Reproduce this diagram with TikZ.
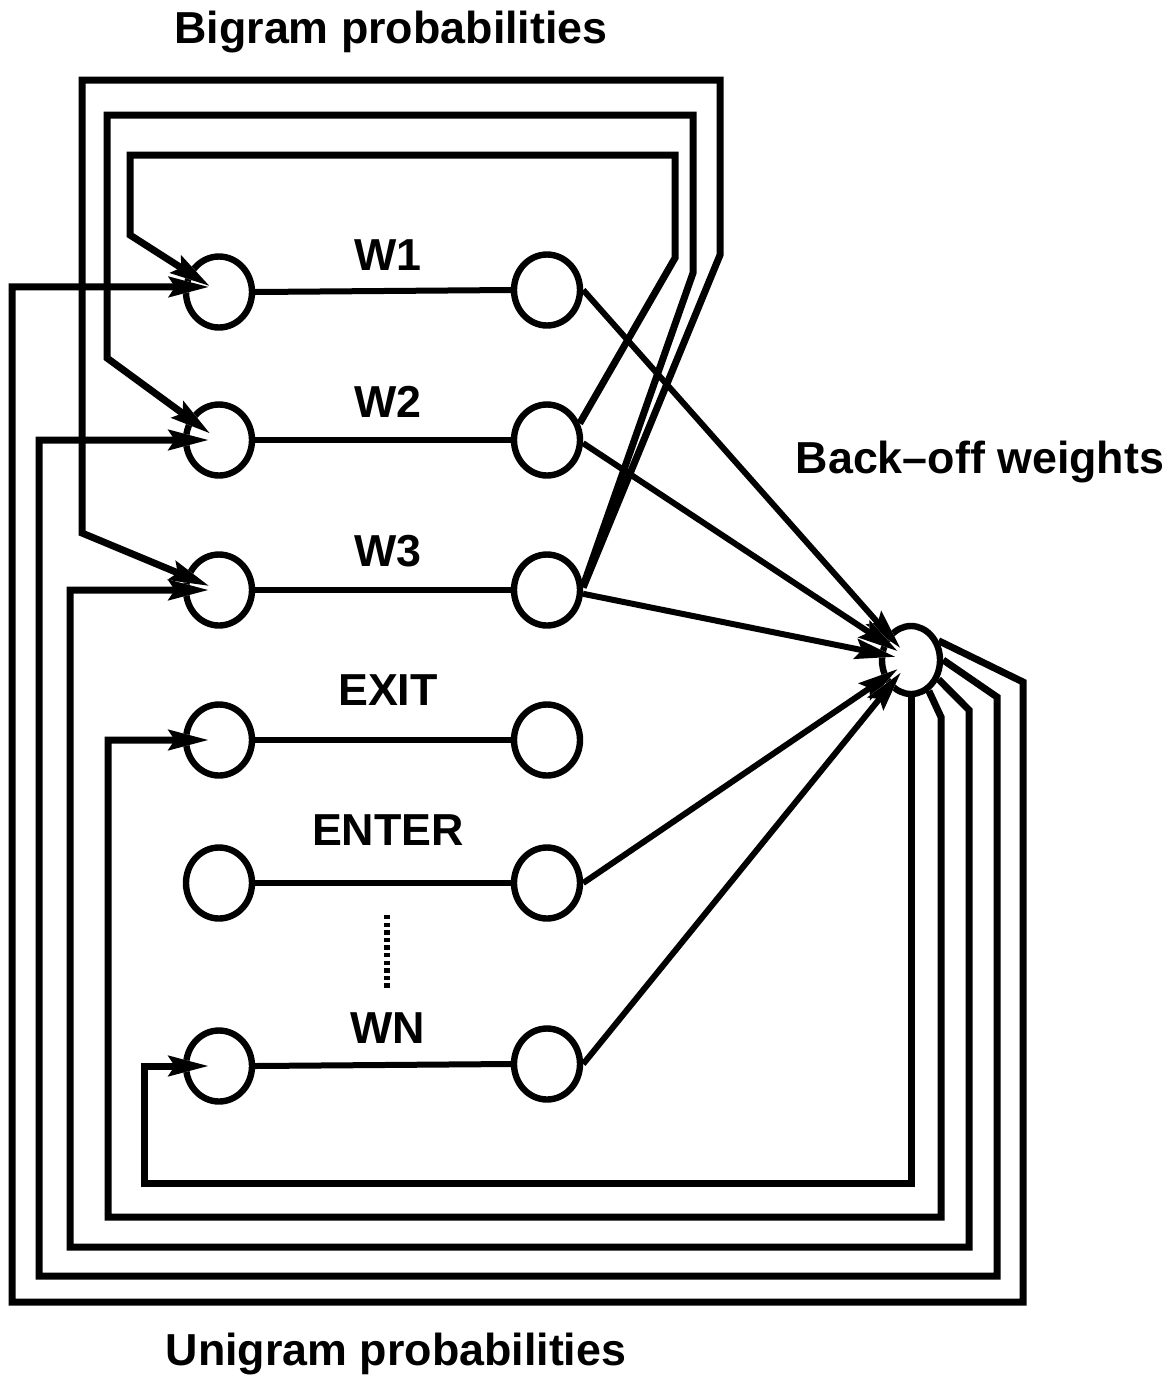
\documentclass[tikz,border=0pt]{standalone}
\usepackage{fontspec}
\setmainfont{Liberation Sans}
\usetikzlibrary{shapes.geometric,arrows.meta}

\tikzset{
  statenode/.style={draw, ellipse, line width=3.2pt, minimum width=33pt,
    minimum height=35.5pt, inner sep=0pt},
  hubnode/.style={draw, ellipse, line width=3.2pt, minimum width=29pt,
    minimum height=34pt, inner sep=0pt},
  labeltext/.style={font=\fontsize{22.4}{26}\selectfont\bfseries, anchor=base,
    inner sep=0pt},
  linkline/.style={line width=3pt},
  % long narrow arrowhead with a thin white rim that cuts into the circle outline
  rimtip/.style={
    preaction={draw=white, line width=0.1pt,
      -{Stealth[length=20pt,width=10pt,inset=3pt,line width=2.4pt,color=white]}},
    -{Stealth[length=20pt,width=10pt,inset=3pt]}},
  routeline/.style={line width=3.5pt, line join=miter, shorten >=-13pt, rimtip},
  weightline/.style={line width=3pt, shorten >=8pt, rimtip},
}

\begin{document}
\begin{tikzpicture}[x=0.5pt, y=-0.5pt]
  \useasboundingbox (0,0) rectangle (1168,1382);

  % word models: entry state (left) and exit state (right)
  \node[statenode] (l1) at (219,292) {};
  \node[statenode] (r1) at (547,290) {};
  \node[statenode] (l2) at (219,440) {};
  \node[statenode] (r2) at (547,440) {};
  \node[statenode] (l3) at (219,590) {};
  \node[statenode] (r3) at (547,590) {};
  \node[statenode] (l4) at (219,740) {};
  \node[statenode] (r4) at (547,740) {};
  \node[statenode] (l5) at (219,883) {};
  \node[statenode] (r5) at (547,883) {};
  \node[statenode] (l6) at (219,1066) {};
  \node[statenode] (r6) at (547,1064) {};

  % back-off state
  \node[hubnode] (bo) at (911,660) {};

  % word labels
  \node[labeltext] (t1) at (388,270) {W1};
  \node[labeltext] (t2) at (388,417) {W2};
  \node[labeltext] (t3) at (388,566) {W3};
  \node[labeltext] (t4) at (388,705) {EXIT};
  \node[labeltext] (t5) at (388,845) {ENTER};
  \node[labeltext] (t6) at (388,1043) {WN};

  % captions
  \node[labeltext] (cb) at (391,43) {Bigram probabilities};
  \node[labeltext] (cu) at (396,1365) {Unigram probabilities};
  \node[labeltext] (cw) at (980,473) {Back–off weights};

  % word bodies
  \foreach \i in {1,...,6}
    \draw[linkline] (l\i.east) -- (r\i.west);

  % omitted words
  \coordinate (d1) at (387,915);
  \coordinate (d2) at (387,990);
  \draw[line width=3.2pt, dash pattern=on 2.2pt off 1.6pt] (d1) -- (d2);

  % bigram transitions
  \draw[routeline] (r2.27) -- (675,258) -- (675,155) -- (130,155) -- (130,235) -- (l1);
  \draw[routeline] (r3.6) -- (693,273) -- (693,115) -- (107,115) -- (107,358) -- (l2);
  \draw[routeline] (r3.4) -- (720,255) -- (720,80) -- (82,80) -- (82,533) -- (l3);

  % back-off transitions
  \draw[weightline] (r1.east) -- (bo.center);
  \draw[weightline] (r2.-5) -- (bo.center);
  \draw[weightline] (r3.-6) -- (bo.center);
  \draw[weightline] (r5.east) -- (bo.center);
  \draw[weightline] (r6.east) -- (bo.center);

  % unigram transitions
  \draw[routeline] (bo.35) -- (1023,682) -- (1023,1302) -- (12,1302) |- (l1.172);
  \draw[routeline] (bo.0) -- (997,697) -- (997,1276) -- (39,1276) |- (l2);
  \draw[routeline] (bo.-35) -- (969,710) -- (969,1247) -- (70,1247) |- (l3);
  \draw[routeline] (bo.-60) -- (941,717) -- (941,1217) -- (108,1217) |- (l4);
  \draw[routeline] (bo.south) |- (144,1183) |- (l6);
\end{tikzpicture}
\end{document}
